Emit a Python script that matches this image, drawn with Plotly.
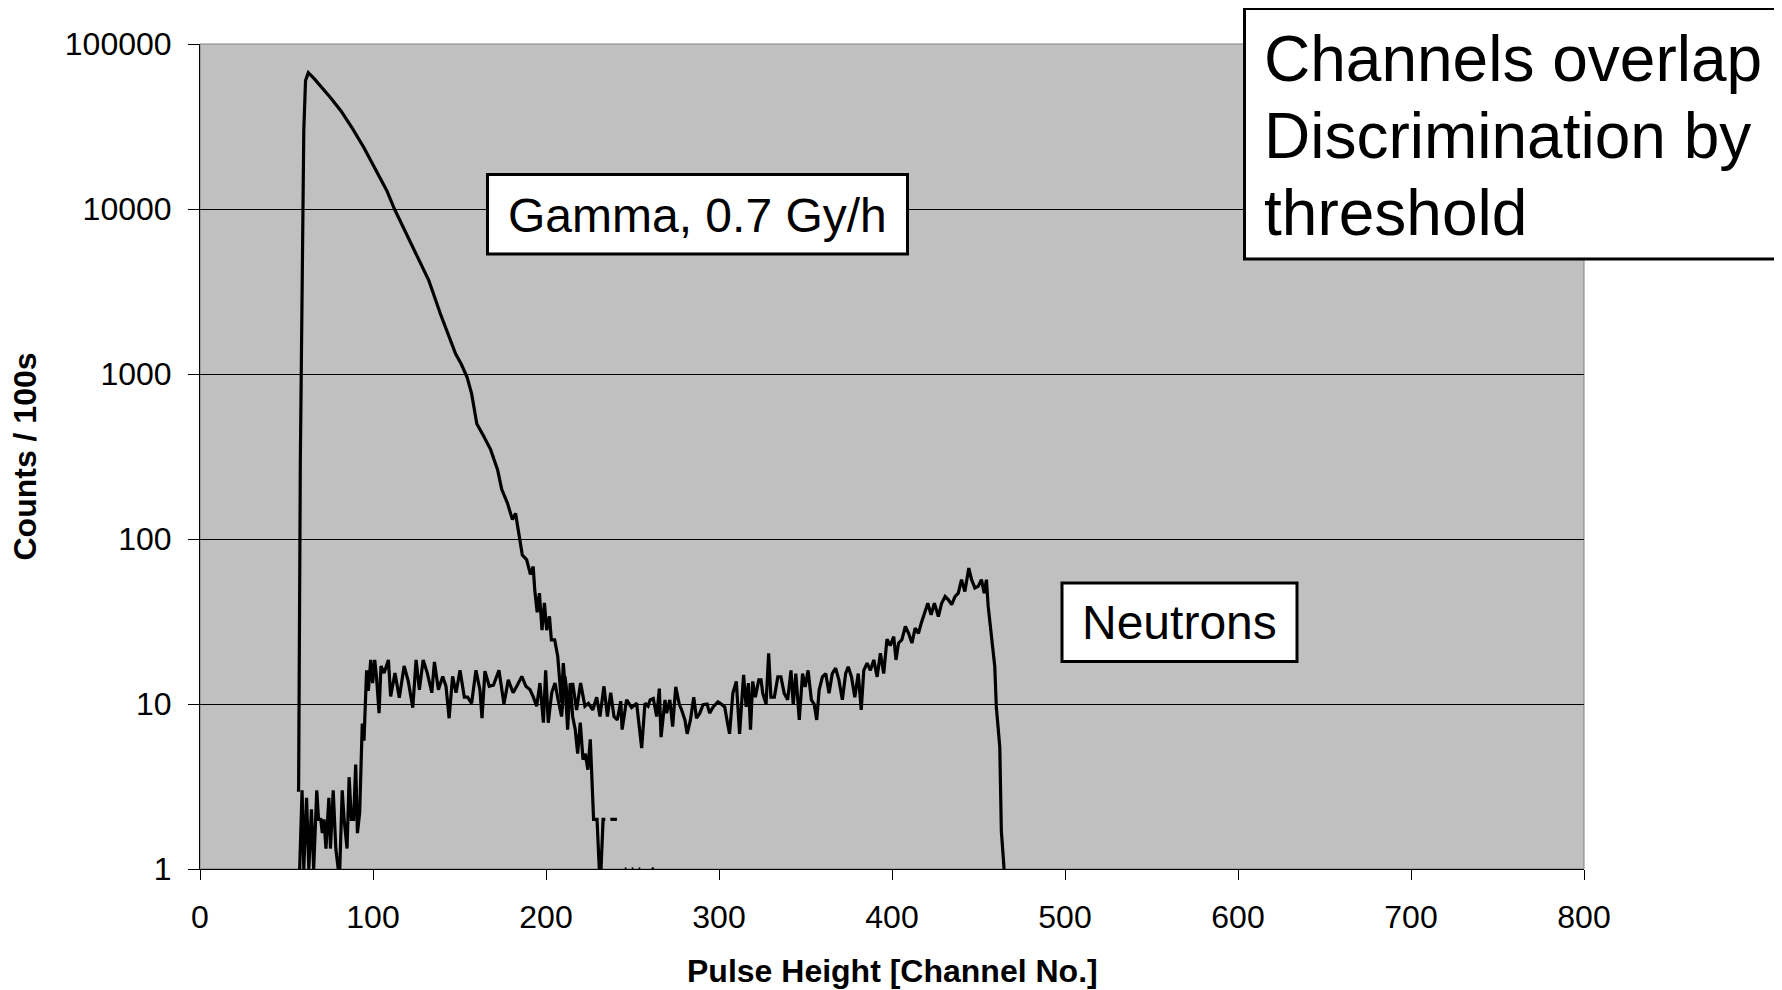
import plotly.graph_objects as go

# ---------------- data ----------------
gamma_ch = [56, 57, 58, 59, 60, 61, 62.6, 66, 70.4, 75, 81.4, 88, 94.7, 101, 108, 112.4, 117,
            123.5, 128, 132.3, 139, 143, 147.8, 151, 154.4, 157, 160, 164, 168, 172, 174.4,
            177.7, 180.6, 182.4, 184.4, 186.3, 188.8, 191, 192.6, 193.5, 194.9, 196.2, 197.7,
            199.1, 200.4, 202, 203.1, 205, 206.8, 207.7, 208.9, 210, 211.2, 212.5, 214, 215.4,
            216.9, 218.3, 219.8, 221.4, 222.7, 224.2, 225.6, 227.5, 229.5, 230.8, 231.8, 233,
            234.3, 235.5, 237.2, 239, 241, 242, 245.5, 246.5, 247.5, 249.5, 250.5, 251.5,
            253.5, 254.5, 255.5, 261, 262.5]
gamma_counts = [3, 3, 300, 3000, 30000, 60000, 67000, 61700, 54700, 47900, 39400, 30900, 23600,
                17800, 12900, 10000, 7940, 5860, 4680, 3680, 2310, 1780, 1320, 1150, 955, 760,
                500, 420, 348, 263, 200, 165, 131, 143, 104, 80, 75, 61, 68, 49, 36, 47, 28, 41,
                28, 34, 24.5, 24.5, 19.4, 14.7, 10.2, 17.7, 12.2, 7, 13.4, 8.4, 7, 5, 7.7, 4.6,
                5, 4, 6.1, 2, 2, 1, 1, 2, 2, None, 2, 2, 2, None, 1, 1, None, 1, 1, None, 1, 1,
                None, 1, 1]

neutron_ch = [57.6, 59, 60, 61.6, 62.9, 64.4, 65.7, 67.5, 68.5, 69.8, 70.7, 71.7, 72.8, 74.5,
              75.4, 77, 78.5, 79.9, 80.8, 82.2, 83.3, 85, 86.2, 87.5, 88.8, 90, 91, 92.3, 93.8,
              94.8, 96.3, 97.3, 98.7, 99.8, 101, 102, 103.5, 104.6, 106.4, 108.9, 110.2, 112.7,
              115.2, 118, 120.4, 123, 124.9, 126.8, 129, 131.4, 134, 135.5, 137.8, 140.3, 142.2,
              144, 146, 148, 150.3, 152.8, 154.7, 157, 159.5, 161.8, 163, 164.7, 167.2, 169.6,
              172.8, 175.7, 178.2, 181, 183.4, 186, 188.4, 190.8, 192.7, 194.6, 196.5, 198.5,
              199.8, 201.3, 203.3, 205.2, 207, 209, 211, 213, 215.4, 217.7, 220, 222.5, 224.5,
              227, 229.3, 231.2, 233.5, 235.5, 237.4, 239.3, 241.2, 243.2, 244, 246.6, 249.5,
              252.4, 255.3, 257.2, 259, 260.2, 262, 264, 265.5, 266.5, 268.8, 269.7, 271.6,
              273.2, 275, 277, 278.4, 280.3, 281.6, 283.5, 285.4, 287, 288.9, 290.8, 293.1,
              294.6, 296.6, 299.4, 301.3, 303.3, 304.6, 306.1, 308, 310, 311.9, 314.2, 315.7,
              317, 318.2, 319.5, 321, 323, 324.3, 325.3, 327.2, 328.7, 330, 332, 334, 335.8,
              337.7, 339.7, 341.6, 342.9, 344.4, 346.4, 348.3, 349.8, 351.5, 353.4, 355, 356.5,
              357.9, 359.8, 361.7, 363.6, 365.5, 367.4, 369.3, 371.3, 373.2, 374.7, 376.6,
              378.5, 380.5, 382.2, 383.7, 385.6, 387.5, 389.5, 391.4, 393.3, 395.2, 397.1, 399,
              401, 402.3, 403.8, 405.7, 407.7, 409.6, 411.5, 413.4, 415.3, 416.9, 418.8, 420.7,
              422.6, 424.5, 426.8, 428.7, 430.7, 432.6, 434.5, 436.4, 438.3, 440.2, 442.1,
              444.4, 446, 447.9, 449.8, 451.7, 453.3, 454.6, 455.6, 457.5, 459.4, 460.3, 462.3,
              463.2, 464.8]
neutron_counts = [1, 3, 1, 2.7, 1, 2.3, 1, 3, 2.0, 2.0, 1.65, 2, 1.33, 2.7, 1.33, 3, 1.33, 1, 1,
                  3, 2, 1.33, 3.6, 2, 2, 4.3, 1.65, 2.2, 7.6, 6.0, 16, 12, 18.5, 13.4, 18.5, 14.7,
                  8.8, 17, 15.4, 18.5, 11.1, 15.4, 10.9, 17, 13.7, 9.5, 18.5, 12.2, 18.5, 15.4,
                  11.7, 18, 12.2, 14.7, 12.8, 8.2, 14.7, 11.7, 16, 11, 11, 10.1, 16, 12.2, 8.2,
                  15.8, 12.8, 13, 16, 10, 14, 11.7, 13, 14.7, 12.8, 12.2, 11, 9.7, 13.4, 7.7, 16,
                  7.7, 11.7, 13.4, 10.6, 8.4, 14.7, 9.7, 13.4, 9.2, 13.4, 9.7, 10.1, 9.2, 11, 8.4,
                  12.8, 8.4, 11.7, 8.4, 8, 10.4, 7, 10.6, 9.5, 10.1, 5.4, 10.1, 9.7, 10.6, 10.8,
                  8.4, 12.4, 6.3, 10.6, 8.8, 10.6, 7.3, 12.7, 10, 9.2, 8, 6.6, 8, 11, 8.2, 8.8,
                  9.9, 10, 8.8, 9.6, 10.3, 10, 9.6, 8, 6.6, 11.6, 13.7, 6.6, 15, 9.6, 13.4, 7,
                  13.7, 11, 14, 14, 11.6, 10, 20.3, 11, 11, 14.6, 14.6, 11.6, 10.6, 16, 9.9, 15.3,
                  8, 15.3, 12.7, 16, 10.6, 10, 8, 12.2, 14.6, 15.3, 11.6, 15.3, 16.5, 14, 10.6,
                  15.3, 16.8, 14.6, 11, 15.3, 9.2, 16, 17.7, 16, 18.5, 14.6, 20.3, 15.3, 24.7,
                  22.6, 25.6, 18.5, 23.4, 24.5, 29.5, 26.8, 23.4, 28.8, 26.8, 30.9, 35.5, 40.8,
                  34.7, 40.8, 33.9, 40.8, 44.8, 42.8, 40, 44.8, 47, 56.7, 48, 66.6, 56.7, 50.5,
                  51.6, 56.7, 47, 56.7, 39, 24.5, 16.9, 9.6, 5.5, 1.7, 1]

x_ticks = [0, 100, 200, 300, 400, 500, 600, 700, 800]
y_ticks = [1, 10, 100, 1000, 10000, 100000]
y_tick_labels = ["1", "10", "100", "1000", "10000", "100000"]

x_title = "Pulse Height [Channel No.]"
y_title = "Counts / 100s"
gamma_label = "Gamma, 0.7 Gy/h"
neutron_label = "Neutrons"
note_lines = ["Channels overlap", "Discrimination by", "threshold"]

# ---------------- layout geometry (page pixels) ----------------
OFF = 8                      # default body margin of the HTML page
W, H = 1782 - OFF, 990 - OFF
L, R, T, B = 200, 1584, 44, 869   # plot area in page pixels
FONT = "Liberation Sans, Arial, sans-serif"


def px(x):
    return (x - L) / (R - L)


def py(y):
    return (B - y) / (B - T)


fig = go.Figure()
fig.add_trace(go.Scatter(x=gamma_ch, y=gamma_counts, mode="lines",
                         line=dict(color="black", width=3.2), connectgaps=False,
                         showlegend=False, hoverinfo="skip"))
fig.add_trace(go.Scatter(x=neutron_ch, y=neutron_counts, mode="lines",
                         line=dict(color="black", width=3.2), connectgaps=False,
                         showlegend=False, hoverinfo="skip"))

shapes = [
    dict(type="rect", xref="paper", yref="paper", x0=0, x1=1, y0=0, y1=1,
         line=dict(color="#808080", width=1), layer="below"),
    dict(type="rect", xref="paper", yref="paper", x0=px(487.5), x1=px(907.5), y0=py(254), y1=py(174.5),
         line=dict(color="black", width=3), fillcolor="white"),
    dict(type="rect", xref="paper", yref="paper", x0=px(1062), x1=px(1297), y0=py(661.5), y1=py(583),
         line=dict(color="black", width=3), fillcolor="white"),
    dict(type="rect", xref="paper", yref="paper", x0=px(1244.5), x1=px(1800), y0=py(259), y1=py(8.5),
         line=dict(color="black", width=3), fillcolor="white"),
]

annotations = [
    dict(text=gamma_label, x=px(697), y=py(215), xref="paper", yref="paper", showarrow=False,
         xanchor="center", yanchor="middle", font=dict(family=FONT, size=48, color="black")),
    dict(text=neutron_label, x=px(1179), y=py(622.5), xref="paper", yref="paper", showarrow=False,
         xanchor="center", yanchor="middle", font=dict(family=FONT, size=48, color="black")),
    dict(text="<b>" + x_title + "</b>", x=px(892), y=py(971), xref="paper", yref="paper",
         showarrow=False, xanchor="center", yanchor="middle",
         font=dict(family=FONT, size=32, color="black")),
    dict(text="<b>" + y_title + "</b>", x=px(24), y=py(456.5), xref="paper", yref="paper",
         showarrow=False, xanchor="center", yanchor="middle", textangle=-90,
         font=dict(family=FONT, size=32, color="black")),
]
for i, line in enumerate(note_lines):
    annotations.append(dict(text=line, x=px(1262), y=py(58.5 + 77 * i), xref="paper", yref="paper",
                            showarrow=False, xanchor="left", yanchor="middle",
                            font=dict(family=FONT, size=64, color="black")))

fig.update_layout(
    width=W, height=H,
    margin=dict(l=L - OFF, r=W - (R - OFF), t=T - OFF, b=H - (B - OFF), pad=0),
    paper_bgcolor="white", plot_bgcolor="#C0C0C0",
    font=dict(family=FONT, color="black"),
    shapes=shapes, annotations=annotations,
    showlegend=False,
)
fig.update_xaxes(range=[0, 800], tickvals=x_ticks, ticks="outside", ticklen=10, tickwidth=1,
                 tickcolor="black", showline=True, linecolor="black", linewidth=1,
                 showgrid=False, zeroline=False, tickfont=dict(family=FONT, size=32),
                 ticklabelstandoff=10)
fig.update_yaxes(type="log", range=[0, 5], tickvals=y_ticks, ticktext=y_tick_labels,
                 ticks="outside", ticklen=11, tickwidth=1, tickcolor="black", showline=True,
                 linecolor="black", linewidth=1, showgrid=True, gridcolor="black", gridwidth=1,
                 zeroline=False, tickfont=dict(family=FONT, size=32), ticklabelstandoff=10)

fig.write_html("out.html")
